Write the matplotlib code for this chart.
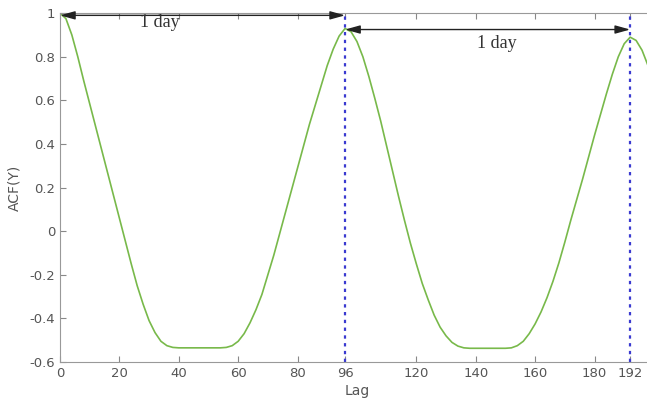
import numpy as np
import matplotlib
matplotlib.use("Agg")
import matplotlib.pyplot as plt

# ACF values (every 2 lags)
lags = list(range(0, 200, 2))
acf = [1.00, 0.975, 0.90, 0.80, 0.69, 0.585, 0.48, 0.375, 0.27, 0.165,
       0.06, -0.045, -0.15, -0.25, -0.335, -0.41, -0.465, -0.505, -0.525, -0.533,
       -0.535, -0.535, -0.535, -0.535, -0.535, -0.535, -0.535, -0.535, -0.533, -0.525,
       -0.505, -0.47, -0.42, -0.36, -0.29, -0.20, -0.11, -0.01, 0.09, 0.19,
       0.29, 0.39, 0.49, 0.58, 0.67, 0.76, 0.835, 0.895, 0.93, 0.915,
       0.87, 0.80, 0.71, 0.61, 0.505, 0.39, 0.275, 0.16, 0.05, -0.055,
       -0.15, -0.24, -0.315, -0.385, -0.44, -0.48, -0.51, -0.527, -0.535, -0.537,
       -0.537, -0.537, -0.537, -0.537, -0.537, -0.537, -0.535, -0.525, -0.505, -0.47,
       -0.425, -0.37, -0.305, -0.23, -0.145, -0.05, 0.05, 0.145, 0.24, 0.34,
       0.44, 0.535, 0.63, 0.72, 0.80, 0.86, 0.89, 0.875, 0.83, 0.76]

day_lags = [96, 192]
spans = [(0, 96, 0.99), (96, 192, 0.925)]
span_labels = ["1 day", "1 day"]
label_pos = [(33.7, 0.955), (147, 0.86)]

xticks = [0, 20, 40, 60, 80, 96, 120, 140, 160, 180, 192]
yticks = [-0.6, -0.4, -0.2, 0, 0.2, 0.4, 0.6, 0.8, 1]
ytick_labels = ["-0.6", "-0.4", "-0.2", "0", "0.2", "0.4", "0.6", "0.8", "1"]

fig = plt.figure(figsize=(6.47, 4.08), dpi=100)
ax = fig.add_axes([0.0927, 0.1127, 0.918, 0.855])

ax.plot(lags, acf, color="#78b94a", lw=1.2)

for d in day_lags:
    ax.axvline(d, color="#3a3ad0", ls=(0, (1.5, 2)), lw=1.6)

for (x0, x1, y), txt, (tx, ty) in zip(spans, span_labels, label_pos):
    ax.annotate("", xy=(x1, y), xytext=(x0, y),
                arrowprops=dict(arrowstyle="<|-|>,head_width=0.25,head_length=0.9",
                                color="#222222", lw=1.0, shrinkA=0, shrinkB=0))
    ax.text(tx, ty, txt, ha="center", va="center", fontsize=13,
            family="Liberation Serif", color="#333333")

ax.set_xlim(0, 200)
ax.set_ylim(-0.6, 1)
ax.set_xticks(xticks)
ax.set_yticks(yticks)
ax.set_yticklabels(ytick_labels)
ax.tick_params(direction="in", colors="#888888", labelcolor="#555555",
               labelsize=9.5, top=True, length=4)
for s in ax.spines.values():
    s.set_color("#999999")

ax.set_xlabel("Lag", fontsize=10, color="#555555", labelpad=3)
ax.set_ylabel("ACF(Y)", fontsize=10, color="#555555", labelpad=6)

fig.savefig("out.png", dpi=100)
